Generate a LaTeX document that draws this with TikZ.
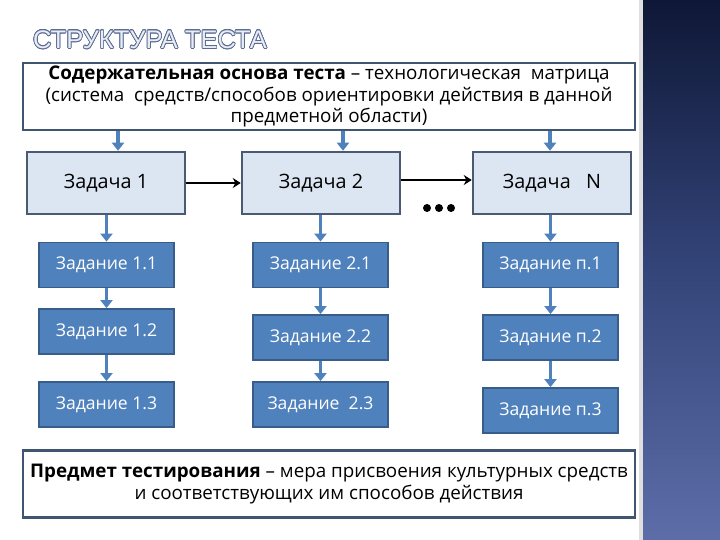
\documentclass[tikz,border=0pt]{standalone}
\usepackage{fontspec}
\setmainfont{Open Sans}
\newfontfamily\titlefont{Liberation Sans}
\usepackage[copies]{contour}
\usetikzlibrary{arrows.meta,calc}
\definecolor{framec}{HTML}{3F5570}
\definecolor{zfill}{HTML}{DCE6F2}
\definecolor{zborder}{HTML}{4A5A72}
\definecolor{tfill}{HTML}{4F81BD}
\definecolor{tborder}{HTML}{385D8A}
\definecolor{arrowc}{HTML}{4F81BD}
\definecolor{titlefill}{HTML}{E8ECF4}
\definecolor{titleline}{HTML}{5A6A92}
\definecolor{paneltop}{HTML}{0E1736}
\definecolor{panelmid}{HTML}{34457A}
\definecolor{panelbot}{HTML}{5C6DA8}
\contourlength{0.7pt}
\begin{document}
\begin{tikzpicture}[x=1pt,y=-1pt,
  frame/.style={draw=framec, line width=2.5pt, fill=white, align=center, inner sep=0pt,
    minimum width=612pt, minimum height=67pt, font=\fontsize{18.8}{21.5}\selectfont},
  zbox/.style={draw=zborder, fill=zfill, line width=2.5pt, minimum width=158pt,
    minimum height=62pt, inner sep=0pt, font=\fontsize{19.8}{22}\selectfont},
  tbox/.style={draw=tborder, fill=tfill, line width=1.8pt, minimum width=135pt,
    minimum height=45pt, inner sep=0pt, text=white, font=\fontsize{17.6}{20}\selectfont},
  barrow/.style={draw=arrowc, line width=3.2pt, -{Triangle[width=12pt,length=8pt]}},
  karrow/.style={draw=black, -{Stealth[width=10pt,length=8pt]}},
  dotc/.style={fill=black, circle, inner sep=0pt, minimum size=8pt}
]
\useasboundingbox (0,0) rectangle (720,540);
\fill[white] (0,0) rectangle (720,540);
% right panel
\fill[gray!25] (639,0) rectangle (643,540);
\shade[top color=paneltop, bottom color=panelbot, middle color=panelmid] (643,0) rectangle (720,540);

% title
\node[font=\titlefont\fontsize{25.5}{25.5}\selectfont, text=titlefill] (title) at (150,40)
  {\contour{titleline}{СТРУКТУРА\ ТЕСТА}};

% top frame
\node[frame] (top) at (329,96.5)
  {{\bfseries Содержательная основа теста} – технологическая\ \ матрица\\
   (система\ \ средств/способов ориентировки действия в данной\\
   предметной области)};

% Задача
\node[zbox] (z1) at (106,183) {Задача 1};
\node[zbox] (z2) at (321,183) {Задача 2};
\node[zbox] (zn) at (552,183) {Задача\ \ \ N};

% Задание
\node[tbox] (t11) at (106.5,265) {Задание 1.1};
\node[tbox] (t12) at (106.5,331.5) {Задание 1.2};
\node[tbox] (t13) at (106.5,404.5) {Задание 1.3};
\node[tbox] (t21) at (320.5,265) {Задание 2.1};
\node[tbox] (t22) at (320.5,337.5) {Задание 2.2};
\node[tbox] (t23) at (320.5,404.5) {Задание\ \ 2.3};
\node[tbox] (tn1) at (550.5,265) {Задание п.1};
\node[tbox] (tn2) at (550.5,337.5) {Задание п.2};
\node[tbox] (tn3) at (550.5,410.5) {Задание п.3};

% bottom frame
\node[frame] (bot) at (329,484)
  {{\bfseries Предмет тестирования} – мера присвоения культурных средств\\
   и соответствующих им способов действия};

% dots
\node[dotc] (d1) at (427,208) {};
\node[dotc] (d2) at (439,208) {};
\node[dotc] (d3) at (451,208) {};

% arrow columns
\coordinate (a1) at (118,0);
\coordinate (a2) at (343,0);
\coordinate (a3) at (550,0);
\coordinate (c1) at (106.5,0);
\coordinate (c2) at (320.5,0);
\coordinate (c3) at (550.5,0);
\coordinate (h1) at (0,183);
\coordinate (h2) at (0,180);

\draw[barrow] (top.south -| a1) -- (z1.north -| a1);
\draw[barrow] (top.south -| a2) -- (z2.north -| a2);
\draw[barrow] (top.south -| a3) -- (zn.north -| a3);

\draw[barrow] (z1.south -| c1) -- (t11.north);
\draw[barrow] (t11) -- (t12);
\draw[barrow] (t12) -- (t13);
\draw[barrow] (z2.south -| c2) -- (t21.north);
\draw[barrow] (t21) -- (t22);
\draw[barrow] (t22) -- (t23);
\draw[barrow] (zn.south -| c3) -- (tn1.north);
\draw[barrow] (tn1) -- (tn2);
\draw[barrow] (tn2) -- (tn3);

\draw[karrow, line width=2.6pt] (z1.east |- h1) -- (z2.west |- h1);
\draw[karrow, line width=1.6pt] (z2.east |- h2) -- (zn.west |- h2);
\end{tikzpicture}
\end{document}
